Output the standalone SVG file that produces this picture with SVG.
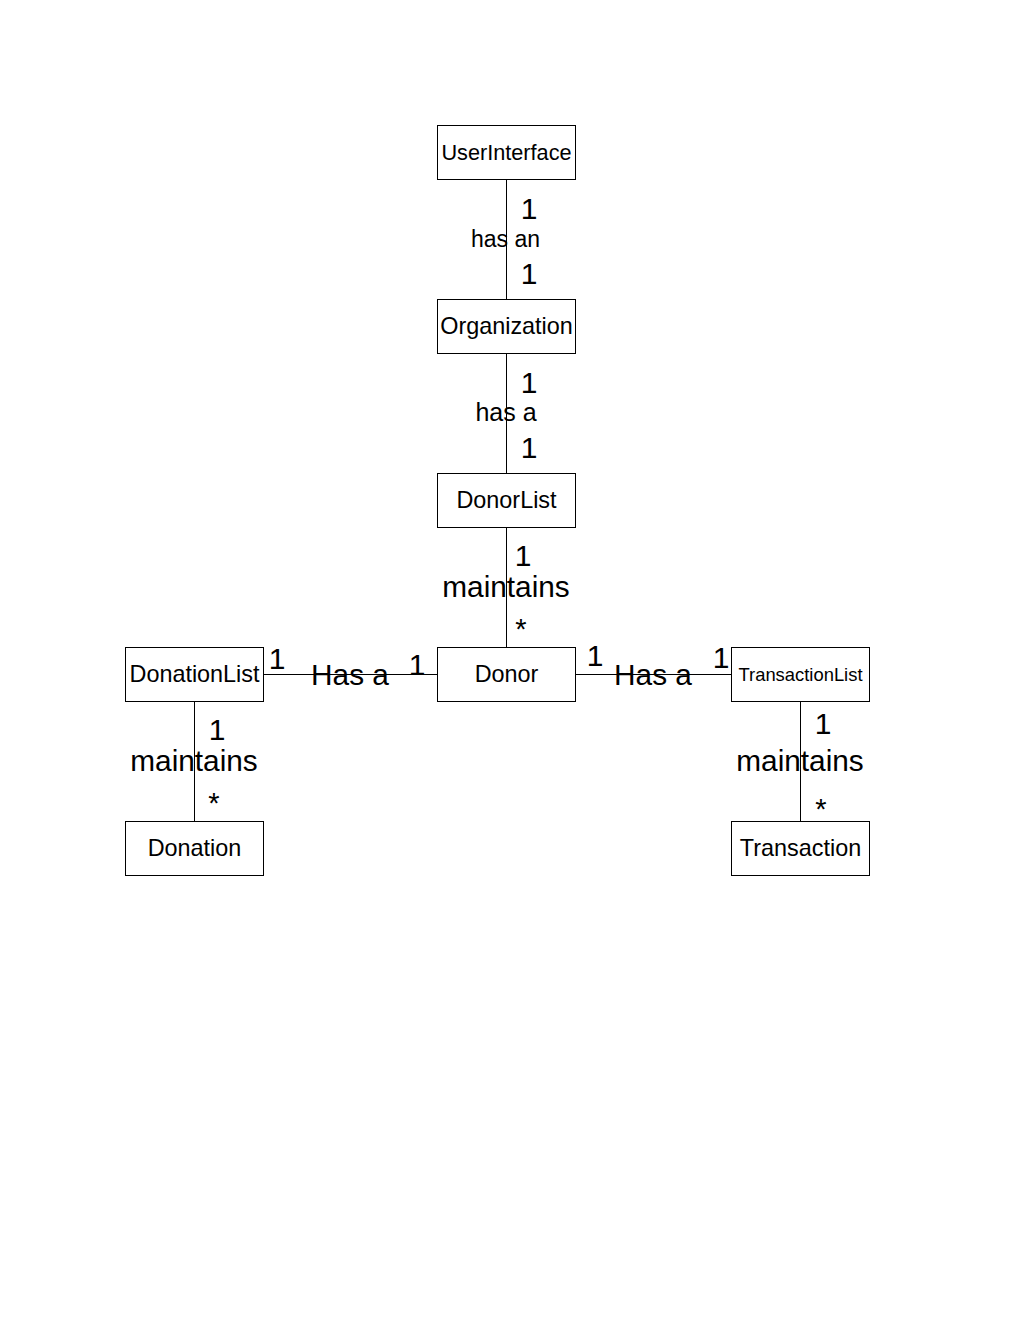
<svg xmlns="http://www.w3.org/2000/svg" width="1020" height="1320" viewBox="0 0 1020 1320">
  <style>
    .box { fill: #ffffff; stroke: #000000; stroke-width: 1; }
    .line { stroke: #000000; stroke-width: 1; fill: none; }
    .name { font-family: "Liberation Sans", Arial, sans-serif; font-size: 23.4px; fill: #000000; text-anchor: middle; }
    .mult { font-family: "Liberation Sans", Arial, sans-serif; font-size: 30px; fill: #000000; text-anchor: middle; }
    .star { font-family: "Liberation Sans", Arial, sans-serif; font-size: 29px; fill: #000000; text-anchor: middle; }
    .rel { font-family: "Liberation Sans", Arial, sans-serif; font-size: 24px; fill: #000000; text-anchor: middle; }
    .relbig { font-family: "Liberation Sans", Arial, sans-serif; font-size: 29.8px; fill: #000000; text-anchor: middle; }
  </style>
  <rect x="0" y="0" width="1020" height="1320" fill="#ffffff"/>

  <!-- associations between classes -->
  <g id="connectors">
    <line class="line" x1="506.5" y1="179.5" x2="506.5" y2="299.5"/>
    <line class="line" x1="506.5" y1="353.5" x2="506.5" y2="473.5"/>
    <line class="line" x1="506.5" y1="527.5" x2="506.5" y2="647.5"/>
    <line class="line" x1="263.5" y1="674.5" x2="437.5" y2="674.5"/>
    <line class="line" x1="575.5" y1="674.5" x2="731.5" y2="674.5"/>
    <line class="line" x1="194.5" y1="701.5" x2="194.5" y2="821.5"/>
    <line class="line" x1="800.5" y1="701.5" x2="800.5" y2="821.5"/>

    <!-- UserInterface - Organization -->
    <text class="mult" x="529" y="219">1</text>
    <text class="rel" x="505.5" y="247" style="font-size:23px">has an</text>
    <text class="mult" x="529" y="284">1</text>

    <!-- Organization - DonorList -->
    <text class="mult" x="529" y="393">1</text>
    <text class="rel" x="506" y="421" style="font-size:25px">has a</text>
    <text class="mult" x="529" y="458">1</text>

    <!-- DonorList - Donor -->
    <text class="mult" x="523" y="566">1</text>
    <text class="relbig" x="506" y="597">maintains</text>
    <text class="star" x="521" y="639">*</text>

    <!-- DonationList - Donor -->
    <text class="mult" x="277" y="669">1</text>
    <text class="relbig" x="350" y="685">Has a</text>
    <text class="mult" x="417" y="675">1</text>

    <!-- Donor - TransactionList -->
    <text class="mult" x="595" y="666">1</text>
    <text class="relbig" x="653" y="685">Has a</text>
    <text class="mult" x="721" y="668">1</text>

    <!-- DonationList - Donation -->
    <text class="mult" x="217" y="740">1</text>
    <text class="relbig" x="194" y="771">maintains</text>
    <text class="star" x="214" y="813">*</text>

    <!-- TransactionList - Transaction -->
    <text class="mult" x="823" y="734">1</text>
    <text class="relbig" x="800" y="771">maintains</text>
    <text class="star" x="821" y="818.5">*</text>
  </g>

  <g id="UserInterface">
    <rect class="box" x="437.5" y="125.5" width="138" height="54"/>
    <text class="name" x="506.5" y="160" style="font-size:21.7px">UserInterface</text>
  </g>
  <g id="Organization">
    <rect class="box" x="437.5" y="299.5" width="138" height="54"/>
    <text class="name" x="506.5" y="334">Organization</text>
  </g>
  <g id="DonorList">
    <rect class="box" x="437.5" y="473.5" width="138" height="54"/>
    <text class="name" x="506.5" y="508">DonorList</text>
  </g>
  <g id="Donor">
    <rect class="box" x="437.5" y="647.5" width="138" height="54"/>
    <text class="name" x="506.5" y="682">Donor</text>
  </g>
  <g id="DonationList">
    <rect class="box" x="125.5" y="647.5" width="138" height="54"/>
    <text class="name" x="194.5" y="682">DonationList</text>
  </g>
  <g id="TransactionList">
    <rect class="box" x="731.5" y="647.5" width="138" height="54"/>
    <text class="name" x="800.5" y="681" style="font-size:18.4px">TransactionList</text>
  </g>
  <g id="Donation">
    <rect class="box" x="125.5" y="821.5" width="138" height="54"/>
    <text class="name" x="194.5" y="856">Donation</text>
  </g>
  <g id="Transaction">
    <rect class="box" x="731.5" y="821.5" width="138" height="54"/>
    <text class="name" x="800.5" y="856">Transaction</text>
  </g>
</svg>
